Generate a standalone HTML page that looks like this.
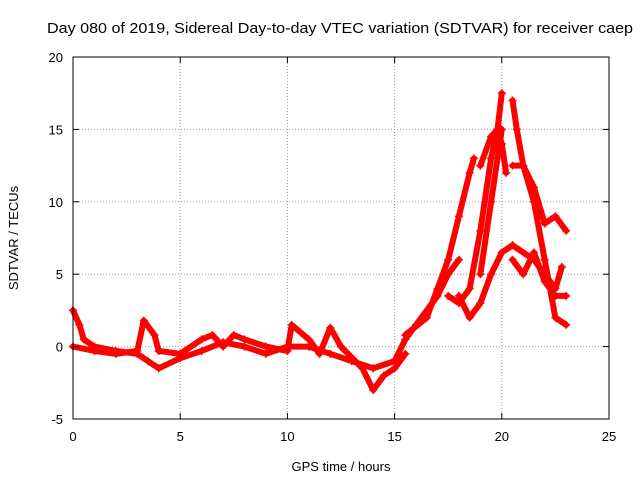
<!DOCTYPE html>
<html><head><meta charset="utf-8"><style>
body{margin:0;background:#fff;}
svg text{font-family:"Liberation Sans",sans-serif;font-size:13px;fill:#000;}
</style></head><body>
<svg id="chart" width="640" height="480">
<text x="340" y="33" text-anchor="middle" style="font-size:14.5px" textLength="586" lengthAdjust="spacingAndGlyphs">Day 080 of 2019, Sidereal Day-to-day VTEC variation (SDTVAR) for receiver caep</text>
<text x="341" y="471" text-anchor="middle">GPS time / hours</text>
<text transform="translate(18,238) rotate(-90)" text-anchor="middle">SDTVAR / TECUs</text>
<g id="grid"></g><g id="marks"></g><g id="axes"></g>
</svg>
<script>
const xTicks=[0,5,10,15,20,25];
const yTicks=[-5,0,5,10,15,20];
const trackA=[[0,2.5],[0.3,1.5],[0.5,0.5],[1,0],[2,-0.3],[3,-0.5],[3.5,-1],[4,-1.5],[5,-0.8],[6,-0.3],[7,0.3],[8,0],[9,-0.5],[10,0],[11,0],[12,-0.5],[13,-1],[14,-1.5],[15,-1],[15.5,0.5],[16,1.5],[17,3.5],[17.5,5],[18,6]];
const trackB=[[0,0],[1,-0.3],[2,-0.5],[3,-0.3],[3.3,1.8],[3.8,0.8],[4,-0.3],[5,-0.5],[6,0.5],[6.5,0.8],[7,0],[7.5,0.8],[8,0.5],[9,0],[10,-0.3],[10.2,1.5],[11,0.5],[11.5,-0.5],[12,1.3],[12.5,0],[13.5,-1.5],[14,-3],[14.5,-2],[15,-1.5],[15.5,-0.5]];
const trackC=[[15.5,0.8],[16.5,2],[17,4],[17.5,6],[18,9],[18.5,12],[18.7,13]];
const trackD=[[17.5,3.5],[18,3],[18.5,4],[19,8],[19.5,13],[19.8,15],[20,17.5]];
const trackE=[[18,3.5],[18.5,2],[19,3],[19.5,5],[20,6.5],[20.5,7]];
const trackF=[[20.5,17],[20.7,15],[21,12.5],[21.5,11],[22,8.5],[22.5,9],[23,8]];
const trackG=[[19,5],[19.5,10],[20,15]];
const trackH=[[20.5,12.5],[21,12.5],[21.5,10],[22,6],[22.5,2],[23,1.5]];
const trackI=[[20.5,6],[21,5],[21.5,6.5],[22,4.5],[22.5,3.5],[23,3.5]];
const trackJ=[[20.5,7],[21.5,6],[22,5],[22.5,4],[22.8,5.5]];
const trackK=[[19,12.5],[19.5,14.5],[19.8,15],[20,14],[20.2,12]];
const tracks=[trackA,trackB,trackC,trackD,trackE,trackF,trackG,trackH,trackI,trackJ,trackK];
const X0=73,X1=609,Y0=419,Y1=57;
const xs=v=>X0+(v-0)/25*(X1-X0);
const ys=v=>Y0-(v+5)/25*(Y0-Y1);
const NS="http://www.w3.org/2000/svg";
function mk(t,a,p){const e=document.createElementNS(NS,t);for(const k in a)e.setAttribute(k,a[k]);p.appendChild(e);return e;}
const grid=document.getElementById('grid'),axes=document.getElementById('axes'),marks=document.getElementById('marks');
xTicks.forEach(t=>{
 if(t>0&&t<25){const g=mk('line',{x1:xs(t),x2:xs(t),y1:Y1,y2:Y0,stroke:'#a0a0a0','stroke-dasharray':'1,2'},grid);
 
 }
 mk('line',{x1:xs(t),x2:xs(t),y1:Y0,y2:Y0-6,stroke:'#000'},axes);
 mk('line',{x1:xs(t),x2:xs(t),y1:Y1,y2:Y1+6,stroke:'#000'},axes);
 const l=mk('text',{x:xs(t),y:Y0+22,'text-anchor':'middle'},axes);l.textContent=t;
 
 
});
yTicks.forEach(t=>{
 if(t>-5&&t<20){const g=mk('line',{x1:X0,x2:X1,y1:ys(t),y2:ys(t),stroke:'#a0a0a0','stroke-dasharray':'1,2'},grid);
 
 }
 mk('line',{x1:X0,x2:X0+6,y1:ys(t),y2:ys(t),stroke:'#000'},axes);
 mk('line',{x1:X1,x2:X1-6,y1:ys(t),y2:ys(t),stroke:'#000'},axes);
 const l=mk('text',{x:X0-10,y:ys(t)+5,'text-anchor':'end'},axes);l.textContent=t;
 
 
});
const fr=mk('rect',{x:X0,y:Y1,width:X1-X0,height:Y0-Y1,fill:'none',stroke:'#000'},axes);


tracks.forEach(tr=>{
 const pl=mk('polyline',{points:tr.map(p=>xs(p[0])+','+ys(p[1])).join(' '),fill:'none',stroke:'#f00','stroke-width':6,'stroke-linejoin':'round','stroke-linecap':'round'},marks);
 
 
 tr.forEach(p=>{
  const x=xs(p[0]),y=ys(p[1]);
  const m=mk('path',{d:`M${x-4},${y}H${x+4}M${x},${y-4}V${y+4}`,stroke:'#f00','stroke-width':1.5},marks);
  
  
 });
});
</script>
</body></html>
